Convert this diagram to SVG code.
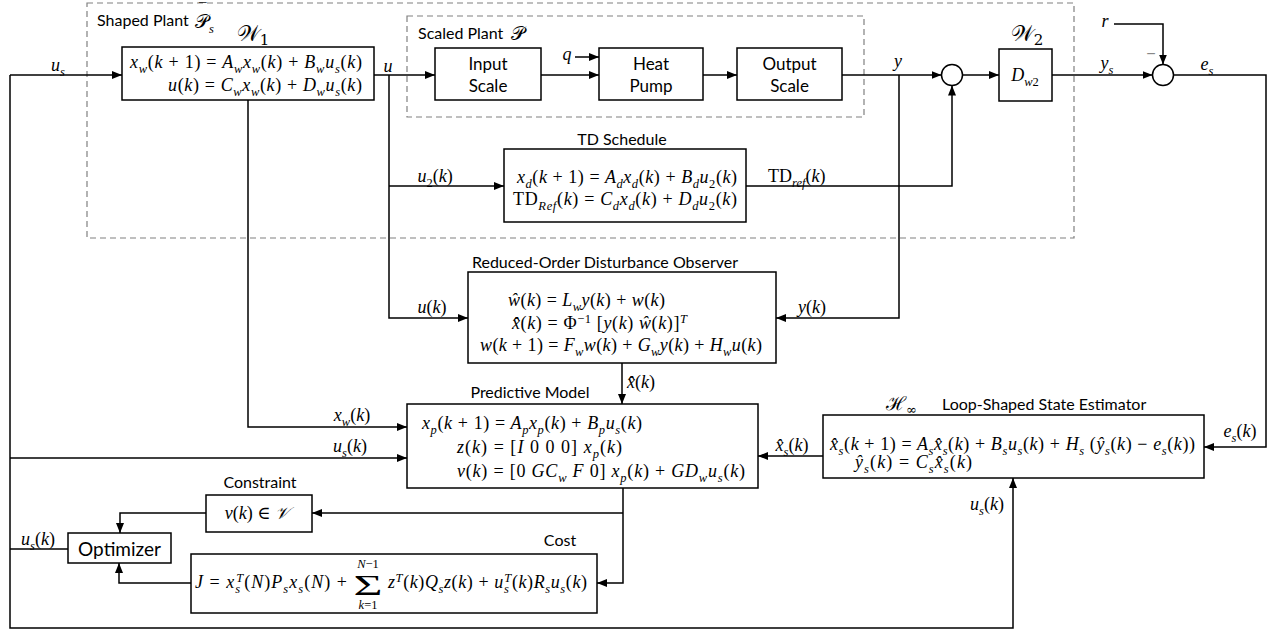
<svg xmlns="http://www.w3.org/2000/svg" width="1276" height="633" viewBox="0 0 1276 633">
<defs>
<style>
.m{font-family:"Liberation Serif","DejaVu Serif",serif;font-size:18px;font-style:italic;fill:#000}
.b{font-size:12.5px;baseline-shift:-4.5px}
.p{font-size:12.5px;baseline-shift:6.5px}
.u{font-style:normal}
.t{font-family:Lato,"Liberation Sans",sans-serif;font-size:16px;fill:#000}
.c{text-anchor:middle}
.box{fill:#fff;stroke:#000;stroke-width:1.5}
.dash{fill:none;stroke:#808080;stroke-width:1.2;stroke-dasharray:6 4}
.w{fill:none;stroke:#000;stroke-width:1.5}
.cal{font-family:"DejaVu Serif","Noto Sans",serif;font-size:22px;fill:#000}
</style>
<marker id="a" viewBox="0 0 10 8" refX="10" refY="4" markerWidth="10" markerHeight="8" markerUnits="userSpaceOnUse" orient="auto"><path d="M0,0 L10,4 L0,8 z" fill="#000"/></marker>
</defs>
<rect width="1276" height="633" fill="#fff"/>

<g id="shaped-plant">
<rect class="dash" x="87" y="3" width="987" height="235"/>
<text class="t" x="97" y="26">Shaped Plant</text>
<text class="cal" x="195" y="28" style="font-size:19px">𝒫<tspan class="m b">s</tspan><tspan class="m u" x="199" y="13" style="font-size:15px">¯</tspan></text>
</g>

<g id="scaled-plant">
<rect class="dash" x="407" y="16" width="457" height="101"/>
<text class="t" x="418" y="39">Scaled  Plant</text>
<text class="cal" x="511" y="40" style="font-size:19px">𝒫</text>
</g>

<g id="W1">
<text class="cal c" x="253" y="41">𝒲<tspan font-size="15" baseline-shift="-4">1</tspan></text>
<rect class="box" x="122" y="47" width="252" height="53"/>
<text class="m" x="130" y="68" textLength="232" lengthAdjust="spacing">x<tspan class="b">w</tspan><tspan class="u">(</tspan>k <tspan class="u">+ 1) =</tspan> A<tspan class="b">w</tspan>x<tspan class="b">w</tspan><tspan class="u">(</tspan>k<tspan class="u">) +</tspan> B<tspan class="b">w</tspan>u<tspan class="b">s</tspan><tspan class="u">(</tspan>k<tspan class="u">)</tspan></text>
<text class="m" x="168" y="91" textLength="194" lengthAdjust="spacing">u<tspan class="u">(</tspan>k<tspan class="u">) =</tspan> C<tspan class="b">w</tspan>x<tspan class="b">w</tspan><tspan class="u">(</tspan>k<tspan class="u">) +</tspan> D<tspan class="b">w</tspan>u<tspan class="b">s</tspan><tspan class="u">(</tspan>k<tspan class="u">)</tspan></text>
</g>

<g id="input-scale">
<rect class="box" x="435" y="48" width="106" height="52"/>
<text class="t c" x="488" y="70" style="font-size:17px">Input</text>
<text class="t c" x="488" y="92" style="font-size:17px">Scale</text>
</g>

<g id="heat-pump">
<rect class="box" x="599" y="48" width="104" height="52"/>
<text class="t c" x="651" y="70" style="font-size:17px">Heat</text>
<text class="t c" x="651" y="92" style="font-size:17px">Pump</text>
</g>

<g id="output-scale">
<rect class="box" x="737" y="48" width="105" height="52"/>
<text class="t c" x="789.5" y="70" style="font-size:17px">Output</text>
<text class="t c" x="789.5" y="92" style="font-size:17px">Scale</text>
</g>

<g id="sum1">
<circle class="box" cx="952" cy="75" r="10.5"/>
</g>

<g id="W2">
<text class="cal c" x="1027" y="41">𝒲<tspan font-size="15" baseline-shift="-4">2</tspan></text>
<rect class="box" x="999" y="49" width="53" height="52"/>
<text class="m c" x="1025" y="81">D<tspan class="b">w<tspan class="u">2</tspan></tspan></text>
</g>

<g id="sum2">
<circle class="box" cx="1163" cy="75" r="10.5"/>
<text x="1151" y="59" font-family="Liberation Sans,sans-serif" font-size="16" fill="#888" text-anchor="middle">−</text>
</g>

<g id="td-schedule">
<text class="t c" x="622" y="145">TD Schedule</text>
<rect class="box" x="504" y="149" width="242" height="73"/>
<text class="m" x="517" y="183" textLength="220" lengthAdjust="spacing">x<tspan class="b">d</tspan><tspan class="u">(</tspan>k <tspan class="u">+ 1) =</tspan> A<tspan class="b">d</tspan>x<tspan class="b">d</tspan><tspan class="u">(</tspan>k<tspan class="u">) +</tspan> B<tspan class="b">d</tspan>u<tspan class="b u">2</tspan><tspan class="u">(</tspan>k<tspan class="u">)</tspan></text>
<text class="m" x="513" y="205" textLength="224" lengthAdjust="spacing"><tspan class="u">TD</tspan><tspan class="b">Ref</tspan><tspan class="u">(</tspan>k<tspan class="u">) =</tspan> C<tspan class="b">d</tspan>x<tspan class="b">d</tspan><tspan class="u">(</tspan>k<tspan class="u">) +</tspan> D<tspan class="b">d</tspan>u<tspan class="b u">2</tspan><tspan class="u">(</tspan>k<tspan class="u">)</tspan></text>
</g>

<g id="observer">
<text class="t c" x="605" y="268">Reduced-Order Disturbance Observer</text>
<rect class="box" x="468" y="272" width="308" height="91"/>
<text class="m" x="508" y="306" textLength="157" lengthAdjust="spacing">ŵ<tspan class="u">(</tspan>k<tspan class="u">) =</tspan> L<tspan class="b">w</tspan>y<tspan class="u">(</tspan>k<tspan class="u">) +</tspan> w<tspan class="u">(</tspan>k<tspan class="u">)</tspan></text>
<text class="m" x="512" y="329" textLength="175" lengthAdjust="spacing">x̂̂<tspan class="u">(</tspan>k<tspan class="u">) = Φ</tspan><tspan class="p u">−1</tspan> <tspan class="u">[</tspan>y<tspan class="u">(</tspan>k<tspan class="u">)</tspan>  ŵ<tspan class="u">(</tspan>k<tspan class="u">)]</tspan><tspan class="p">T</tspan></text>
<text class="m" x="480" y="351" textLength="282" lengthAdjust="spacing">w<tspan class="u">(</tspan>k <tspan class="u">+ 1) =</tspan> F<tspan class="b">w</tspan>w<tspan class="u">(</tspan>k<tspan class="u">) +</tspan> G<tspan class="b">w</tspan>y<tspan class="u">(</tspan>k<tspan class="u">) +</tspan> H<tspan class="b">w</tspan>u<tspan class="u">(</tspan>k<tspan class="u">)</tspan></text>
</g>

<g id="predictive-model">
<text class="t c" x="530" y="398">Predictive Model</text>
<rect class="box" x="407" y="404" width="351" height="84"/>
<text class="m" x="422" y="429" textLength="220" lengthAdjust="spacing">x<tspan class="b">p</tspan><tspan class="u">(</tspan>k <tspan class="u">+ 1) =</tspan> A<tspan class="b">p</tspan>x<tspan class="b">p</tspan><tspan class="u">(</tspan>k<tspan class="u">) +</tspan> B<tspan class="b">p</tspan>u<tspan class="b">s</tspan><tspan class="u">(</tspan>k<tspan class="u">)</tspan></text>
<text class="m" x="457" y="453" textLength="165" lengthAdjust="spacing">z<tspan class="u">(</tspan>k<tspan class="u">) = [</tspan>I  <tspan class="u">0  0  0]</tspan> x<tspan class="b">p</tspan><tspan class="u">(</tspan>k<tspan class="u">)</tspan></text>
<text class="m" x="457" y="477" textLength="288" lengthAdjust="spacing">v<tspan class="u">(</tspan>k<tspan class="u">) = [0</tspan>  GC<tspan class="b">w</tspan>  F  <tspan class="u">0]</tspan> x<tspan class="b">p</tspan><tspan class="u">(</tspan>k<tspan class="u">) +</tspan> GD<tspan class="b">w</tspan>u<tspan class="b">s</tspan><tspan class="u">(</tspan>k<tspan class="u">)</tspan></text>
</g>

<g id="estimator">
<text class="cal" x="886" y="410" style="font-size:19px">ℋ<tspan font-size="13" baseline-shift="-4">∞</tspan></text>
<text class="t" x="942" y="410">Loop-Shaped State Estimator</text>
<rect class="box" x="823" y="415" width="381" height="63"/>
<text class="m" x="830" y="450" textLength="365" lengthAdjust="spacing">x̂<tspan class="b">s</tspan><tspan class="u">(</tspan>k <tspan class="u">+ 1) =</tspan> A<tspan class="b">s</tspan>x̂<tspan class="b">s</tspan><tspan class="u">(</tspan>k<tspan class="u">) +</tspan> B<tspan class="b">s</tspan>u<tspan class="b">s</tspan><tspan class="u">(</tspan>k<tspan class="u">) +</tspan> H<tspan class="b">s</tspan> <tspan class="u">(</tspan>ŷ<tspan class="b">s</tspan><tspan class="u">(</tspan>k<tspan class="u">) −</tspan> e<tspan class="b">s</tspan><tspan class="u">(</tspan>k<tspan class="u">))</tspan></text>
<text class="m" x="855" y="468" textLength="117" lengthAdjust="spacing">ŷ<tspan class="b">s</tspan><tspan class="u">(</tspan>k<tspan class="u">) =</tspan> C<tspan class="b">s</tspan>x̂<tspan class="b">s</tspan><tspan class="u">(</tspan>k<tspan class="u">)</tspan></text>
</g>

<g id="constraint">
<text class="t c" x="260" y="488">Constraint</text>
<rect class="box" x="206" y="495" width="106" height="37"/>
<text class="m c" x="257" y="519">v<tspan class="u">(</tspan>k<tspan class="u">) ∈</tspan> <tspan class="cal" style="font-size:17px">𝒱</tspan></text>
</g>

<g id="optimizer">
<rect class="box" x="68" y="533" width="103" height="30"/>
<text class="t c" x="119.5" y="556" style="font-size:19px">Optimizer</text>
</g>

<g id="cost">
<text class="t c" x="560" y="546">Cost</text>
<rect class="box" x="191" y="554" width="406" height="59"/>
<text class="m" x="195" y="588" textLength="152" lengthAdjust="spacing">J <tspan class="u">=</tspan> x<tspan class="b">s</tspan><tspan class="p" dx="-5">T</tspan><tspan class="u">(</tspan>N<tspan class="u">)</tspan>P<tspan class="b">s</tspan>x<tspan class="b">s</tspan><tspan class="u">(</tspan>N<tspan class="u">) +</tspan></text>
<text class="m c"><tspan x="368" y="568" style="font-size:12.5px">N<tspan class="u">−1</tspan></tspan><tspan class="u" x="368" y="595" style="font-size:29px" textLength="29" lengthAdjust="spacingAndGlyphs">Σ</tspan><tspan x="368" y="609" style="font-size:12.5px">k<tspan class="u">=1</tspan></tspan></text>
<text class="m" x="388" y="588" textLength="199" lengthAdjust="spacing">z<tspan class="p">T</tspan><tspan class="u">(</tspan>k<tspan class="u">)</tspan>Q<tspan class="b">s</tspan>z<tspan class="u">(</tspan>k<tspan class="u">) +</tspan> u<tspan class="b">s</tspan><tspan class="p" dx="-5">T</tspan><tspan class="u">(</tspan>k<tspan class="u">)</tspan>R<tspan class="b">s</tspan>u<tspan class="b">s</tspan><tspan class="u">(</tspan>k<tspan class="u">)</tspan></text>
</g>

<g id="connectors">
<path class="w" d="M10,75 H122" marker-end="url(#a)"/>
<path class="w" d="M10,75 V628 H1013 V478" marker-end="url(#a)"/>
<path class="w" d="M68,549 H10"/>
<path class="w" d="M10,458 H407" marker-end="url(#a)"/>
<path class="w" d="M374,75 H435" marker-end="url(#a)"/>
<path class="w" d="M389,75 V318 H468" marker-end="url(#a)"/>
<path class="w" d="M389,186 H504" marker-end="url(#a)"/>
<path class="w" d="M248,100 V427 H407" marker-end="url(#a)"/>
<path class="w" d="M541,75 H599" marker-end="url(#a)"/>
<path class="w" d="M575,57 H599" marker-end="url(#a)"/>
<path class="w" d="M703,75 H737" marker-end="url(#a)"/>
<path class="w" d="M842,75 H941.5" marker-end="url(#a)"/>
<path class="w" d="M899,75 V318 H776" marker-end="url(#a)"/>
<path class="w" d="M746,186 H952 V85.5" marker-end="url(#a)"/>
<path class="w" d="M962.5,75 H999" marker-end="url(#a)"/>
<path class="w" d="M1052,75 H1152.5" marker-end="url(#a)"/>
<path class="w" d="M1114,24 H1163 V64.5" marker-end="url(#a)"/>
<path class="w" d="M1173.5,75 H1266 V447 H1204" marker-end="url(#a)"/>
<path class="w" d="M622,363 V404" marker-end="url(#a)"/>
<path class="w" d="M823,456 H758" marker-end="url(#a)"/>
<path class="w" d="M623,488 V583 H597" marker-end="url(#a)"/>
<path class="w" d="M623,513 H312" marker-end="url(#a)"/>
<path class="w" d="M206,513 H120 V533" marker-end="url(#a)"/>
<path class="w" d="M191,583 H119 V563" marker-end="url(#a)"/>
</g>

<g id="labels">
<text class="m c" x="58" y="71">u<tspan class="b">s</tspan></text>
<text class="m c" x="388" y="72">u</text>
<text class="m c" x="567" y="60">q</text>
<text class="m c" x="898" y="67">y</text>
<text class="m c" x="1105" y="27">r</text>
<text class="m c" x="1107" y="69">y<tspan class="b">s</tspan></text>
<text class="m c" x="1207" y="70">e<tspan class="b">s</tspan></text>
<text class="m c" x="435" y="182">u<tspan class="b u">2</tspan><tspan class="u">(</tspan>k<tspan class="u">)</tspan></text>
<text class="m" x="768" y="182"><tspan class="u">TD</tspan><tspan class="b">ref</tspan><tspan class="u">(</tspan>k<tspan class="u">)</tspan></text>
<text class="m c" x="432" y="313">u<tspan class="u">(</tspan>k<tspan class="u">)</tspan></text>
<text class="m c" x="812" y="313">y<tspan class="u">(</tspan>k<tspan class="u">)</tspan></text>
<text class="m" x="627" y="388">x̂̂<tspan class="u">(</tspan>k<tspan class="u">)</tspan></text>
<text class="m c" x="352" y="421">x<tspan class="b">w</tspan><tspan class="u">(</tspan>k<tspan class="u">)</tspan></text>
<text class="m c" x="350" y="452">u<tspan class="b">s</tspan><tspan class="u">(</tspan>k<tspan class="u">)</tspan></text>
<text class="m c" x="792" y="451">x̂<tspan class="b">s</tspan><tspan class="u">(</tspan>k<tspan class="u">)</tspan></text>
<text class="m c" x="1240" y="437">e<tspan class="b">s</tspan><tspan class="u">(</tspan>k<tspan class="u">)</tspan></text>
<text class="m c" x="987" y="510">u<tspan class="b">s</tspan><tspan class="u">(</tspan>k<tspan class="u">)</tspan></text>
<text class="m c" x="38" y="545">u<tspan class="b">s</tspan><tspan class="u">(</tspan>k<tspan class="u">)</tspan></text>
</g>
</svg>
